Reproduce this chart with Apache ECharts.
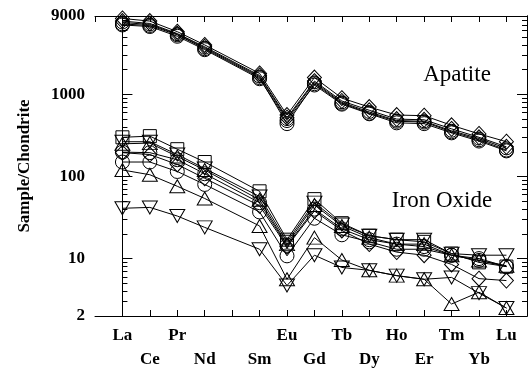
<!DOCTYPE html>
<html>
<head>
<meta charset="utf-8">
<script src="https://cdn.jsdelivr.net/npm/echarts@6/dist/echarts.min.js"></script>
<style>
html,body{margin:0;padding:0;background:#fff}
#main{width:528px;height:372px}
</style>
</head>
<body>
<div id="main"></div>
<script>
// REE axis positions (Pm has a slot but no data)
var elements = ['La','Ce','Pr','Nd','Pm','Sm','Eu','Gd','Tb','Dy','Ho','Er','Tm','Yb','Lu'];
var plotted  = ['La','Ce','Pr','Nd','Sm','Eu','Gd','Tb','Dy','Ho','Er','Tm','Yb','Lu'];
var yTickLabels = [2, 10, 100, 1000, 9000];

// apatite samples
var apatiteA = [8400, 7800, 5800, 4000, 1800, 560, 1600, 900, 700, 560, 550, 420, 330, 265];
var apatiteB = [7200, 6900, 5300, 3600, 1600, 440, 1350, 780, 590, 470, 460, 350, 280, 210];
var apatiteC = [7800, 7300, 5500, 3800, 1700, 520, 1450, 830, 640, 500, 490, 380, 300, 230];
var apatiteD = [7500, 7100, 5400, 3700, 1650, 500, 1400, 800, 610, 480, 470, 360, 290, 220];
var apatiteE = [7000, 6700, 5100, 3500, 1550, 480, 1300, 760, 580, 450, 440, 340, 270, 205];

// iron oxide samples
var oxideSq    = [300, 310, 215, 150, 66, 17, 53, 27, 19, 17, 16, 11.5, 9, 8];
var oxideTdHi  = [265, 265, 185, 125, 57, 16, 48, 26, 19, 17, 17, 11.5, 11, 11];
var oxideTuHi  = [250, 255, 175, 120, 52, 15, 45, 25, 18, 15, 15, 11, 9.5, 8.2];
var oxideCirA  = [198, 195, 160, 108, 48, 14.5, 40, 23, 17, 15, 14, 11, 10, 8];
var oxideDia   = [195, 185, 140, 95, 44, 14, 38, 22, 15, 12, 11, 8.5, 5.7, 5.4];
var oxideCirB  = [150, 150, 115, 80, 37, 10.8, 31, 19.5, 16, 13, 13, 11, 9.5, 8];
var oxideTuLo  = [120, 105, 76, 54, 25, 5.6, 18, 9.6, 7.2, 6.2, 5.6, 2.8, 3.9, 2.5];
var oxideTdLo  = [41, 42, 33, 24, 13, 4.7, 11, 7.8, 7.2, 6.2, 5.6, 5.9, 3.8, 2.5];

var minorTicks = [];
[1, 10, 100, 1000].forEach(function (d) {
  for (var k = 2; k <= 9; k++) {
    var v = k * d;
    if (v > 2 && v < 9000) minorTicks.push(v);
  }
});

var font = 'Liberation Serif';

function line(vals, symbol, rotate, size) {
  return {
    type: 'line',
    symbol: symbol,
    symbolRotate: rotate || 0,
    symbolSize: size,
    data: vals.map(function (v, i) { return [elements.indexOf(plotted[i]), v]; }),
    lineStyle: {color: '#000', width: 1},
    itemStyle: {color: 'rgba(0,0,0,0)', borderColor: '#000', borderWidth: 1},
    emphasis: {disabled: true},
    animation: false,
    z: 3
  };
}

function yAx(pos, tickLen, custom, showLabel) {
  var ax = {
    type: 'log', min: 2, max: 9000, position: pos,
    axisLine: {show: true, lineStyle: {color: '#000', width: 1}},
    splitLine: {show: false},
    axisTick: {show: true, inside: true, length: tickLen, lineStyle: {color: '#000', width: 1}},
    axisLabel: {show: false}
  };
  if (custom) ax.axisTick.customValues = custom;
  if (showLabel) {
    ax.axisLabel = {
      show: true, margin: 10, color: '#000', fontFamily: font, fontWeight: 'bold', fontSize: 17,
      customValues: yTickLabels,
      formatter: function (v) { return String(Math.round(v)); }
    };
    ax.name = 'Sample/Chondrite';
    ax.nameLocation = 'middle';
    ax.nameGap = 62;
    ax.nameRotate = 90;
    ax.nameTextStyle = {color: '#000', fontFamily: font, fontWeight: 'bold', fontSize: 17};
  }
  return ax;
}

function xAx(pos, showLabel) {
  return {
    type: 'value', min: -1, max: 14.75, interval: 1, position: pos,
    axisLine: {show: true, lineStyle: {color: '#000', width: 1}},
    splitLine: {show: false},
    axisTick: {show: true, inside: true, length: 6, lineStyle: {color: '#000', width: 1}},
    axisLabel: {
      show: showLabel, margin: 8, color: '#000', fontFamily: font, fontWeight: 'bold', fontSize: 17,
      lineHeight: 24, showMinLabel: false, showMaxLabel: false,
      formatter: function (v) {
        if (v < 0 || v !== Math.round(v) || v > 14) return '';
        var name = elements[v];
        if (name === 'Pm') return '';
        return v % 2 === 1 ? '\n' + name : name;
      }
    }
  };
}

var chart = echarts.init(document.getElementById('main'));
chart.setOption({
  backgroundColor: '#fff',
  animation: false,
  grid: {left: 95, right: 1, top: 16, bottom: 53},
  xAxis: [xAx('bottom', true), xAx('top', false)],
  yAxis: [
    yAx('left', 10, [10, 100, 1000], true),
    yAx('left', 5, minorTicks, false),
    yAx('right', 10, [10, 100, 1000], false),
    yAx('right', 5, minorTicks, false)
  ],
  graphic: [
    {type: 'text', style: {text: 'Apatite', x: 457, y: 75, font: '23px "Liberation Serif"', fill: '#000', textAlign: 'center', textVerticalAlign: 'middle'}},
    {type: 'text', style: {text: 'Iron Oxide', x: 442, y: 201, font: '23px "Liberation Serif"', fill: '#000', textAlign: 'center', textVerticalAlign: 'middle'}}
  ],
  series: [
    line(apatiteA, 'diamond', 0, [14, 15]),
    line(apatiteB, 'circle', 0, 14),
    line(apatiteC, 'diamond', 0, [14, 15]),
    line(apatiteD, 'circle', 0, 13),
    line(apatiteE, 'circle', 0, 14),
    line(oxideSq, 'rect', 0, 13),
    line(oxideTdHi, 'triangle', 180, [15, 13]),
    line(oxideTuHi, 'triangle', 0, [15, 13]),
    line(oxideCirA, 'circle', 0, 14),
    line(oxideDia, 'diamond', 0, [14, 15]),
    line(oxideCirB, 'circle', 0, 14),
    line(oxideTuLo, 'triangle', 0, [15, 13]),
    line(oxideTdLo, 'triangle', 180, [15, 13])
  ]
});
</script>
</body>
</html>
